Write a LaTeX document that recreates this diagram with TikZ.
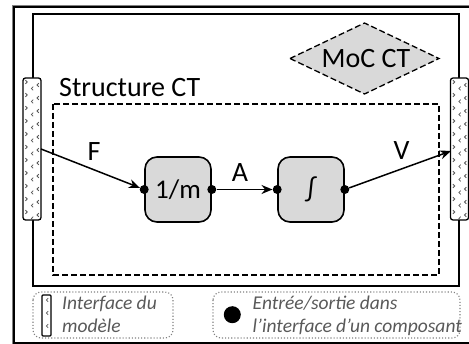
\documentclass[tikz,border=0pt]{standalone}
\usepackage{fontspec}
\setmainfont{Carlito}
\usetikzlibrary{arrows.meta}
\definecolor{blockgray}{RGB}{217,217,217}
\definecolor{legendtext}{RGB}{89,89,89}
\definecolor{framegray}{RGB}{128,128,128}
\tikzset{
  block/.style={draw=black, line width=1.6pt, fill=blockgray, rounded corners=12pt, minimum width=66pt, minimum height=65pt, font=\fontsize{27}{32}\selectfont, inner sep=0pt},
  port/.style={circle, fill=black, minimum size=9pt, inner sep=0pt},
  strip/.style={draw=black, line width=1.3pt, fill=white, rounded corners=2.5pt, minimum width=18pt, minimum height=142pt, inner sep=0pt},
  conn/.style={line width=1.5pt, -{Stealth[length=11pt,width=9pt]}},
  lbl/.style={font=\fontsize{28}{32}\selectfont, inner sep=0pt},
  legtxt/.style={font=\fontsize{19.5}{23}\selectfont\itshape, text=legendtext, inner sep=0pt, anchor=base west},
  legbox/.style={draw=framegray, dotted, line width=1.1pt, rounded corners=8pt},
  chev/.style={draw=black!65, line width=0.8pt},
  dashline/.style={dash pattern=on 6pt off 3pt}
}
\begin{document}
\begin{tikzpicture}[x=1pt,y=-1pt]
\useasboundingbox (0,0) rectangle (469,344);
% outer window frame
\draw[framegray, line width=1.4pt] (12.6,5.6) rectangle (480,360);
\draw[black, line width=1.6pt] (14.2,7.2) rectangle (478,343.2);
% model rectangle
\draw[black, line width=1.6pt] (33,14) rectangle (459,286);
% diamond MoC CT
\draw[black, dashline, line width=1.3pt, fill=blockgray] (290,58.5) -- (364.5,23) -- (439,58.5) -- (364.5,94) -- cycle;
\node[lbl] (moc) at (366,59) {MoC CT};
% structure CT
\draw[black, dashline, line width=1.4pt] (53,104) rectangle (439,275);
\node[lbl, anchor=base west] (struct) at (59,97) {Structure CT};
% interface strips
\node[strip] (inL) at (32,149) {};
\node[strip] (inR) at (459.5,149) {};
\foreach \cx in {32,459.5}{
  \foreach \yy in {82,95,...,215}{
    \draw[chev] (\cx-6.5,\yy-1.8) -- (\cx-4.8,\yy) -- (\cx-6.5,\yy+1.8);
    \draw[chev] (\cx+1.2,\yy+4.7) -- (\cx-0.6,\yy+6.5) -- (\cx+1.2,\yy+8.3);
    \draw[chev] (\cx+6.8,\yy+1.2) -- (\cx+5,\yy+3) -- (\cx+6.8,\yy+4.8);
  }
}
% blocks
\node[block] (inv) at (178,189.5) {1/m};
\node[block] (integ) at (311,189.5) {∫};
\node[port] (p1) at (inv.west) {};
\node[port] (p2) at (inv.east) {};
\node[port] (p3) at (integ.west) {};
\node[port] (p4) at (integ.east) {};
\coordinate (fin) at (41,149);
\coordinate (vout) at (451,151);
\draw[conn] (fin) -- (p1);
\draw[conn] (p2) -- (p3);
\draw[conn] (p4) -- (vout);
\node[lbl] (F) at (94,152) {F};
\node[lbl] (A) at (240,173) {A};
\node[lbl] (V) at (401.5,151) {V};
% legend
\draw[legbox] (33,292) rectangle (173,338);
\draw[legbox] (213,292) rectangle (460,338);
\node[draw=black, line width=1.2pt, fill=white, rounded corners=1pt, minimum width=9pt, minimum height=41pt, inner sep=0pt] (legstrip) at (46.5,315.5) {};
\foreach \yy in {300,313,326}{
  \draw[chev] (48.2,\yy-1.8) -- (46.4,\yy) -- (48.2,\yy+1.8);
}
\node[legtxt] (lt1) at (62,310) {Interface du};
\node[legtxt] (lt2) at (62,332.5) {modèle};
\node[circle, fill=black, minimum size=17pt, inner sep=0pt] (legdot) at (232.3,314.7) {};
\node[legtxt] (lt3) at (252.5,309.5) {Entrée/sortie dans};
\node[legtxt] (lt4) at (252.5,332.5) {l’interface d’un composant};
\end{tikzpicture}
\end{document}
